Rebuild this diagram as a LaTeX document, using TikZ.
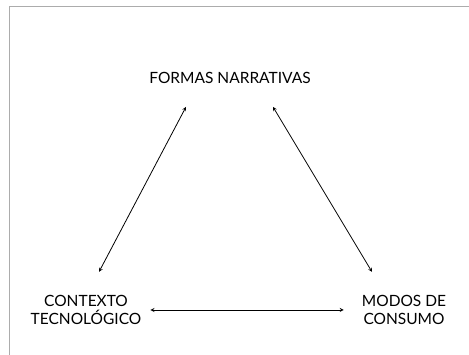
\documentclass[tikz,border=0pt]{standalone}
\usepackage{fontspec}
\setmainfont{Lato}
\usetikzlibrary{
	arrows
}

\begin{document}
\begin{tikzpicture}[x=1pt, y=-1pt,
    label/.style={align=center, font=\fontsize{15.5}{18.5}\selectfont, inner sep=0pt}]
    % Canvas
    \useasboundingbox (0,0) rectangle (469,355);
    \draw[gray!65, line width=1pt] (9,355) -- (9,7) -- (469,7);
    % Concepts
    \node[label] (formas)   at (230,78)  {FORMAS NARRATIVAS};
    \node[label] (contexto) at (86,310)  {CONTEXTO\\TECNOLÓGICO};
    \node[label] (modos)    at (404,310) {MODOS DE\\CONSUMO};
    % Relations
    \draw[<->, >=stealth, line width=0.8pt] ([shift={(13,-23)}]contexto.north) -- ([shift={(-44,23)}]formas.south);   % left side
    \draw[<->, >=stealth, line width=0.8pt] ([shift={(43,23)}]formas.south)   -- ([shift={(-32,-23)}]modos.north); % right side
    \draw[<->, >=stealth, line width=0.8pt] ([xshift=9pt]contexto.east)       -- ([xshift=-18pt]modos.west);      % base
\end{tikzpicture}
\end{document}
